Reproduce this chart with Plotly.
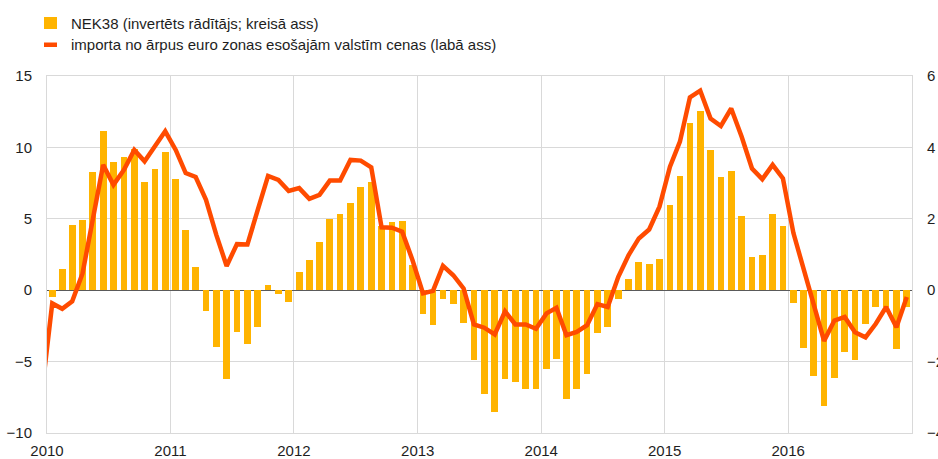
import pandas as pd
import plotly.graph_objects as go

# Months (bar categories) and line months (line starts one month earlier)
months = [d.strftime("%Y-%m-%d") for d in pd.date_range("2010-01-01", "2016-12-01", freq="MS")]
line_months = ["2009-12-01"] + months

nek38 = [
    -0.5, 1.45, 4.6, 4.95, 8.3, 11.15, 9.0, 9.3, 9.9, 7.6, 8.5, 9.7,
    7.8, 4.2, 1.6, -1.45, -4.0, -6.2, -2.95, -3.75, -2.6, 0.35, -0.3, -0.8,
    1.25, 2.1, 3.4, 5.0, 5.35, 6.1, 7.25, 7.6, 4.5, 4.75, 4.85, 1.8,
    -1.7, -2.45, -0.6, -1.0, -2.3, -4.9, -7.25, -8.5, -6.2, -6.45, -6.95, -6.9,
    -5.55, -4.8, -7.6, -6.9, -5.85, -3.0, -2.6, -0.65, 0.8, 2.0, 1.85, 2.2,
    6.0, 8.0, 11.7, 12.55, 9.8, 7.9, 8.35, 5.2, 2.3, 2.45, 5.35, 4.5,
    -0.9, -4.05, -6.0, -8.1, -6.15, -4.3, -4.9, -2.4, -1.2, -1.2, -4.15, -1.2,
]

import_prices = [
    -2.9,
    -0.37, -0.52, -0.31, 0.47, 1.97, 3.51, 2.95, 3.37, 3.93, 3.61, 4.03, 4.45,
    3.93, 3.28, 3.17, 2.53, 1.55, 0.68, 1.29, 1.28, 2.25, 3.20, 3.09, 2.78,
    2.86, 2.56, 2.67, 3.07, 3.07, 3.65, 3.63, 3.44, 1.76, 1.75, 1.64, 0.84,
    -0.09, -0.02, 0.68, 0.42, 0.05, -0.96, -1.05, -1.24, -0.59, -0.96, -0.96, -1.08,
    -0.65, -0.49, -1.26, -1.17, -0.98, -0.39, -0.47, 0.37, 0.98, 1.45, 1.70, 2.34,
    3.46, 4.16, 5.40, 5.59, 4.81, 4.60, 5.09, 4.30, 3.41, 3.11, 3.51, 3.13,
    1.60, 0.57, -0.42, -1.42, -0.85, -0.75, -1.18, -1.32, -0.94, -0.47, -1.04, -0.19,
]

legend_labels = [
    "NEK38 (invertēts rādītājs; kreisā ass)",
    "importa no ārpus euro zonas esošajām valstīm cenas (labā ass)",
]
year_ticks = [f"{y}-01-01" for y in range(2010, 2017)]
year_text = [str(y) for y in range(2010, 2017)]

BAR_C = "#FFB400"
LINE_C = "#FF4B00"
TXT = "#1e1e1e"
GRID = "#d9d9d9"
FONT = "Liberation Sans, Arial, sans-serif"

W, H = 938, 459
ML, MR, MT, MB = 47, 26, 76, 26
PW, PH = W - ML - MR, H - MT - MB

def px_to_paper(x, y):
    return (x - ML) / PW, (H - MB - y) / PH

fig = go.Figure()
fig.add_trace(go.Bar(
    x=months, y=nek38, name=legend_labels[0],
    xperiod="M1", xperiodalignment="middle",
    width=0.65 * 30.44 * 86400000,
    marker=dict(color=BAR_C, line=dict(width=0)),
    yaxis="y", showlegend=False,
))
fig.add_trace(go.Scatter(
    x=line_months, y=import_prices, name=legend_labels[1],
    xperiod="M1", xperiodalignment="middle",
    mode="lines", line=dict(color=LINE_C, width=4.5),
    yaxis="y2", showlegend=False,
))

# manual legend
shapes = []
x0, y0 = px_to_paper(44, 17)
x1, y1 = px_to_paper(57, 29)
shapes.append(dict(type="rect", xref="paper", yref="paper", x0=x0, x1=x1, y0=y1, y1=y0,
                   fillcolor=BAR_C, line=dict(width=0)))
x0, y0 = px_to_paper(44, 42.5)
x1, y1 = px_to_paper(57, 47)
shapes.append(dict(type="rect", xref="paper", yref="paper", x0=x0, x1=x1, y0=y1, y1=y0,
                   fillcolor=LINE_C, line=dict(width=0)))

annotations = []
for label, yc in zip(legend_labels, [23.5, 44.5]):
    ax, ay = px_to_paper(69, yc)
    annotations.append(dict(text=label, xref="paper", yref="paper", x=ax, y=ay,
                            xanchor="left", yanchor="middle", showarrow=False,
                            font=dict(size=15, color=TXT, family=FONT)))

fig.update_layout(
    width=W, height=H,
    margin=dict(l=ML, r=MR, t=MT, b=MB, autoexpand=False),
    paper_bgcolor="white", plot_bgcolor="white",
    font=dict(family=FONT, size=15, color=TXT),
    bargap=0,
    shapes=shapes, annotations=annotations,
    xaxis=dict(
        type="date", range=["2010-01-01", "2017-01-01"],
        tickvals=year_ticks, ticktext=year_text,
        showgrid=True, gridcolor=GRID, gridwidth=1,
        showline=True, mirror=True, linecolor=GRID, linewidth=1,
        ticks="outside", ticklen=4, tickcolor="rgba(0,0,0,0)",
        zeroline=False, automargin=False,
    ),
    yaxis=dict(
        range=[-10, 15], tickvals=[-10, -5, 0, 5, 10, 15],
        showgrid=True, gridcolor=GRID, gridwidth=1,
        showline=True, mirror=True, linecolor=GRID, linewidth=1,
        zeroline=True, zerolinecolor="#5a5a5a", zerolinewidth=1,
        ticks="outside", ticklen=11, tickcolor="rgba(0,0,0,0)",
        automargin=False,
    ),
    yaxis2=dict(
        range=[-4, 6], tickvals=[-4, -2, 0, 2, 4, 6],
        overlaying="y", side="right",
        showgrid=False, zeroline=False, showline=False,
        ticks="outside", ticklen=11, tickcolor="rgba(0,0,0,0)",
        automargin=False,
    ),
)

fig.write_html(
    "out.html",
    config={"displayModeBar": False},
    post_script="document.body.style.margin='0px';document.body.style.overflow='hidden';",
)
